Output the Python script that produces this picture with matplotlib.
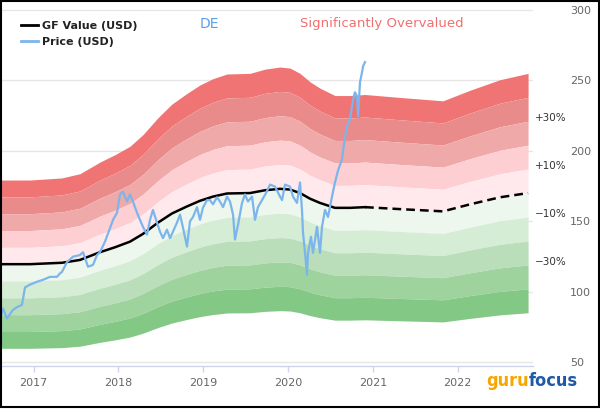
import numpy as np
import matplotlib
matplotlib.use('Agg')
import matplotlib.pyplot as plt
import matplotlib.transforms as mtransforms
from matplotlib.patches import Rectangle

# GF Value (USD), decimal years
gf_dates = [2016.603, 2016.957, 2017.334, 2017.546, 2017.782, 2017.959, 2018.136, 2018.289,
            2018.466, 2018.631, 2018.808, 2018.961, 2019.115, 2019.280, 2019.551, 2019.728,
            2019.905, 2020.023, 2020.141, 2020.259, 2020.376, 2020.553, 2020.730, 2020.907,
            2021.320, 2021.827, 2022.145, 2022.499, 2022.830]
gf_values = [119.5, 119.5, 120.5, 122.5, 128.0, 131.5, 135.5, 141.0,
             149.0, 155.5, 160.5, 164.5, 167.5, 169.7, 170.0, 172.0,
             173.0, 172.5, 170.0, 166.0, 163.0, 159.5, 159.5, 160.0,
             158.6, 157.0, 162.0, 167.0, 170.0]
n_actual = 24  # points up to the last price date, the rest is the dashed estimate

# Price (USD)
price_dates = [2016.603, 2016.638, 2016.686, 2016.721, 2016.756, 2016.804, 2016.862, 2016.898,
               2016.957, 2017.039, 2017.110, 2017.193, 2017.275, 2017.311, 2017.334, 2017.393,
               2017.464, 2017.546, 2017.582, 2017.641, 2017.700, 2017.747, 2017.782, 2017.841,
               2017.900, 2017.936, 2017.983, 2018.018, 2018.053, 2018.101, 2018.136, 2018.171,
               2018.219, 2018.254, 2018.289, 2018.336, 2018.372, 2018.407, 2018.454, 2018.490,
               2018.525, 2018.572, 2018.608, 2018.643, 2018.690, 2018.726, 2018.761, 2018.808,
               2018.844, 2018.879, 2018.926, 2018.961, 2018.997, 2019.044, 2019.079, 2019.115,
               2019.162, 2019.197, 2019.233, 2019.280, 2019.315, 2019.351, 2019.374, 2019.410,
               2019.457, 2019.492, 2019.527, 2019.575, 2019.610, 2019.645, 2019.693, 2019.740,
               2019.787, 2019.846, 2019.905, 2019.929, 2019.964, 2020.023, 2020.058, 2020.105,
               2020.141, 2020.164, 2020.176, 2020.200, 2020.223, 2020.235, 2020.270, 2020.294,
               2020.341, 2020.376, 2020.400, 2020.435, 2020.471, 2020.518, 2020.553, 2020.589,
               2020.636, 2020.671, 2020.707, 2020.730, 2020.766, 2020.789, 2020.813, 2020.825,
               2020.848, 2020.872, 2020.884, 2020.907]
price_values = [80, 88, 81, 84, 87, 89, 90.6, 103,
                105, 107, 108.4, 110.5, 110.5, 113, 114, 121,
                124.8, 126, 128, 117.7, 119, 126, 128, 135.5,
                145, 151, 156, 169, 171, 164, 169, 164,
                156, 151, 146, 140.5, 151, 158, 149, 142.6,
                138, 144, 138, 142.6, 149, 154.7, 145.4, 132,
                150, 153, 160, 151, 159.7, 165, 165, 162,
                167, 164, 160, 167.5, 164, 154.7, 137, 147.6,
                163, 169, 164, 167.5, 151, 160, 165, 170,
                176, 174.6, 167.5, 165, 176, 174.6, 167.5, 163,
                177.5, 158, 142, 127.6, 112, 127.6, 139, 127.6,
                146, 127.6, 146, 158, 153, 167.5, 177.5, 186,
                194, 210, 220, 222, 236.6, 241.6, 238.7, 224.5,
                248.7, 255.8, 260, 263]

# band multipliers of GF Value and their colours (top to bottom)
band_levels = [1.5, 1.4, 1.3, 1.2, 1.1, 1.0, 0.9, 0.8, 0.7, 0.6, 0.5]
band_colors = ['#f17474', '#e98b8b', '#f0a9a9', '#fdcfd3', '#ffe9ec',
               '#eef7ee', '#d5ecd5', '#b9deb9', '#9ed39e', '#84c886']
band_labels = {1.3: '+30%', 1.1: '+10%', 0.9: '\u221210%', 0.7: '\u221230%'}

years = [2017, 2018, 2019, 2020, 2021, 2022]
y_ticks = [50, 100, 150, 200, 250, 300]

fig = plt.figure(figsize=(6, 4.2), dpi=100)
ax = fig.add_axes([1 / 600, 1 - 366 / 420, 532 / 600, 357 / 420])

gf_d = np.array(gf_dates)
gf_v = np.array(gf_values)

# bands
for i in range(len(band_levels) - 1):
    ax.fill_between(gf_d, gf_v * band_levels[i + 1], gf_v * band_levels[i],
                    color=band_colors[i], lw=0, zorder=1)

# GF value line
ax.plot(gf_d[:n_actual], gf_v[:n_actual], color='black', lw=1.8, zorder=3)
ax.plot(gf_d[n_actual - 1:], gf_v[n_actual - 1:], color='black', lw=1.8,
        ls=(0, (3.5, 2)), zorder=3)

# price line
ax.plot(price_dates, price_values, color='#7cb5ec', lw=1.6, zorder=4)

ax.set_xlim(2016.615, 2022.888)
ax.set_ylim(47.2, 300.7)

for s in ['left', 'right', 'top']:
    ax.spines[s].set_visible(False)
ax.spines['bottom'].set_color('#ccd6eb')
ax.spines['bottom'].set_linewidth(1)

ax.set_xticks(years)
ax.set_xticklabels([str(y) for y in years])
ax.tick_params(axis='x', colors='#ccd6eb', length=4, width=1, labelcolor='#666666',
               labelsize=8, pad=5)

ax.yaxis.tick_right()
ax.set_yticks(y_ticks)
ax.tick_params(axis='y', length=0, labelcolor='#666666', labelsize=8, pad=26.5)
for lab in ax.get_yticklabels():
    lab.set_horizontalalignment('left')
ax.grid(axis='y', color='#e6e6e6', lw=1)
ax.set_axisbelow(True)

# band labels on the right
trans = mtransforms.blended_transform_factory(ax.transAxes, ax.transData)
for lvl, txt in band_labels.items():
    ax.text(1.004, gf_v[-1] * lvl + 2, txt, transform=trans, ha='left', va='center',
            fontsize=7.5, color='#333333', clip_on=False)

# legend
handles = [plt.Line2D([], [], color='black', lw=2), plt.Line2D([], [], color='#7cb5ec', lw=2)]
leg = ax.legend(handles, ['GF Value (USD)', 'Price (USD)'], loc='upper left',
                bbox_to_anchor=(21 / 600, 1 - 21 / 420), bbox_transform=fig.transFigure,
                frameon=False, fontsize=8, handlelength=1.5, handletextpad=0.4,
                labelspacing=0.5, borderpad=0, borderaxespad=0)
for t in leg.get_texts():
    t.set_fontweight('bold')
    t.set_color('#222222')

# titles
fig.text(209 / 600, 1 - 24 / 420, 'DE', ha='center', va='center', fontsize=10, color='#5b9fe8')
fig.text(300 / 600, 1 - 24 / 420, 'Significantly Overvalued', ha='left', va='center',
         fontsize=9.5, color='#f07070')

# logo
t1 = fig.text(486 / 600, 1 - 386 / 420, 'guru', ha='left', va='baseline', fontsize=13,
              fontweight='bold', fontstretch='condensed', color='#f7a600',
              family=['DejaVu Sans'])
ax.annotate('focus', xy=(1, 0), xycoords=t1, ha='left', va='bottom', fontsize=13,
            fontweight='bold', fontstretch='condensed', color='#1e5aa8',
            family=['DejaVu Sans'], annotation_clip=False)

# outer border
fig.patches.append(Rectangle((0.5 / 600, 13 / 420), 598.5 / 600, 1 - 13 / 420 - 0.5 / 420,
                             transform=fig.transFigure, fill=False, edgecolor='black', lw=1.5))

fig.savefig('out.png', dpi=100)
